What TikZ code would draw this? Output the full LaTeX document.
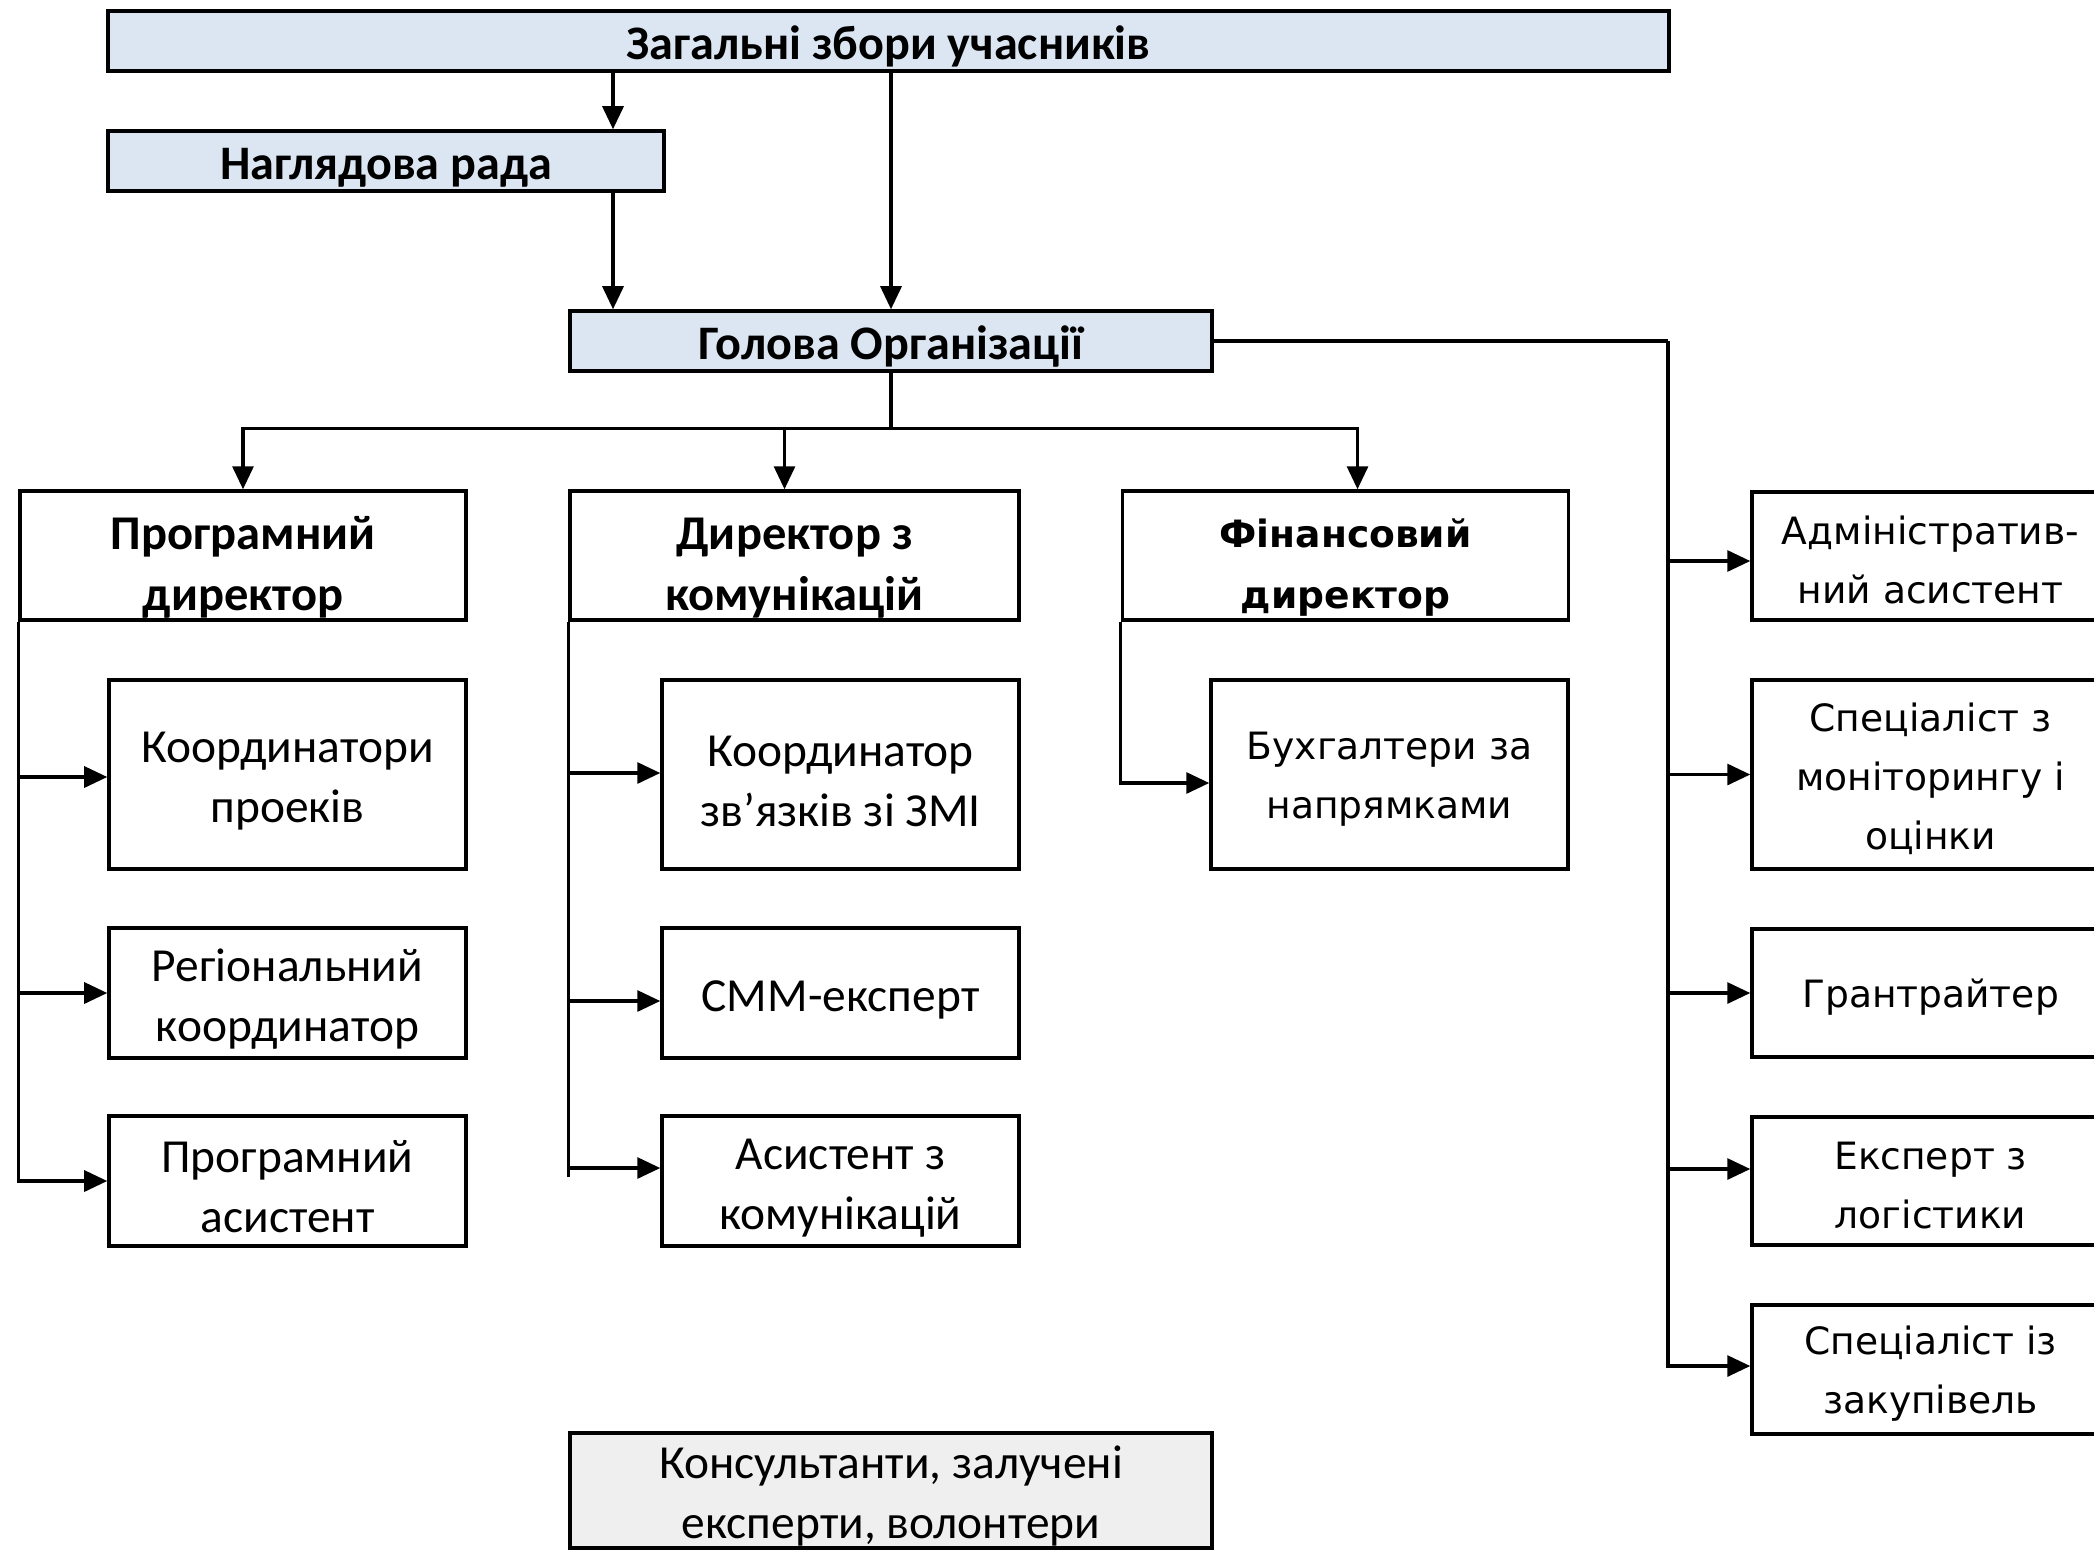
\documentclass[tikz,border=0pt]{standalone}
\usepackage{fontspec}
\setmainfont{Carlito}
\newfontfamily\verd{DejaVu Sans}
\usetikzlibrary{arrows.meta}
\definecolor{headblue}{RGB}{220,230,242}
\definecolor{extgray}{RGB}{239,239,239}
\newcommand\lift{\vphantom{\rule{1pt}{\lifth}}}
\tikzset{
  box/.style = {draw, line width=1pt, inner sep=0pt, align=center},
  head/.style = {box, fill=headblue, minimum height=6mm, font=\fontsize{13.7}{16}\selectfont\bfseries,
    execute at begin node=\def\lifth{4.5mm}},
  chief/.style = {box, minimum height=12.9mm, minimum width=44.6mm, font=\fontsize{13.8}{17.4}\selectfont\bfseries,
    execute at begin node=\def\lifth{5.6mm}},
  unit/.style = {box, minimum width=35.7mm, font=\fontsize{13.5}{17}\selectfont,
    execute at begin node=\def\lifth{4.4mm}},
  side/.style = {box, minimum width=35.7mm, font=\verd\fontsize{10.7}{16.8}\selectfont,
    execute at begin node=\def\lifth{3.7mm}},
  link/.style = {line width=0.9pt},
  arr/.style = {link, -{Triangle[length=2.3mm, width=2.1mm]}}
}
\begin{document}
\begin{tikzpicture}
  \useasboundingbox (0,0) rectangle (20.94,-15.5);
  % top of the structure
  \node[head, minimum width=15.61cm] (zag) at (8.885,-0.41) {\lift Загальні збори учасників};
  \node[head, minimum width=5.56cm] (nag) at (3.86,-1.61) {\lift Наглядова рада};
  \node[head, minimum width=6.42cm] (hol) at (8.91,-3.41) {\lift Голова Організації};
  % directors
  \node[chief] (prog) at (2.43,-5.555) {\lift Програмний\\директор};
  \node[chief, minimum width=4.49cm] (kom) at (7.945,-5.555) {\lift Директор з\\комунікацій};
  \node[chief, font=\verd\fontsize{10.7}{17.4}\selectfont\bfseries,
    execute at begin node=\def\lifth{5.2mm}] (fin) at (13.455,-5.555) {\lift Фінансовий\\директор};
  % staff
  \node[unit, minimum height=18.9mm] (koord) at (2.875,-7.745) {\lift Координатори\\проеків};
  \node[unit, minimum height=13mm] (reg) at (2.875,-9.93) {\lift Регіональний\\координатор};
  \node[unit, minimum height=13mm] (pas) at (2.875,-11.81) {\lift Програмний\\асистент};
  \node[unit, minimum height=18.9mm] (zmi) at (8.405,-7.745) {\lift Координатор\\зв’язків зі ЗМІ};
  \node[unit, minimum height=13mm] (smm) at (8.405,-9.93) {\lift СММ-експерт};
  \node[unit, minimum height=13mm] (kas) at (8.405,-11.81) {\lift Асистент з\\комунікацій};
  \node[side, minimum height=18.9mm] (buh) at (13.895,-7.745) {\lift Бухгалтери за\\напрямками};
  \node[side, minimum height=12.8mm] (adm) at (19.305,-5.56) {\lift Адміністратив-\\ний асистент};
  \node[side, minimum height=18.9mm] (mon) at (19.305,-7.745) {\lift Спеціаліст з\\моніторингу і\\оцінки};
  \node[side, minimum height=12.8mm] (grant) at (19.305,-9.93) {\lift Грантрайтер};
  \node[side, minimum height=12.8mm] (log) at (19.305,-11.81) {\lift Експерт з\\логістики};
  \node[side, minimum height=12.9mm] (zak) at (19.305,-13.695) {\lift Спеціаліст із\\закупівель};
  \node[unit, fill=extgray, minimum width=6.42cm, minimum height=11.5mm] (kons) at (8.91,-14.905) {\lift Консультанти, залучені\\експерти, волонтери};
  % connectors
  \coordinate (nagtap) at ([xshift=22.7mm]nag.north);
  \draw[arr] (zag.south -| nagtap) -- (nagtap);
  \draw[arr] (nag.south -| nagtap) -- (hol.north -| nagtap);
  \draw[arr] (zag.south -| hol.north) -- (hol.north);
  \draw[link] (hol.south) -- ++(0,-0.56) coordinate (fork);
  \draw[arr] (fork) -| (prog.north);
  \draw[arr] (fork) -| ([xshift=-1mm]kom.north);
  \draw[arr] (fork) -| ([xshift=1.2mm]fin.north);
  \coordinate (rbus) at (16.68,0);
  \draw[link] (hol.east) -- (hol.east -| rbus);
  \foreach \n/\s in {adm/-0.5,mon/0,grant/0,log/1.2,zak/0.35}
    \draw[arr] (hol.east -| rbus) |- ([yshift=\s mm]\n.west);
  \foreach \n/\s in {koord/-0.25,reg/0,pas/0}
    \draw[arr] (prog.south west) |- ([yshift=\s mm]\n.west);
  \draw[link] (kom.south west) -- ([yshift=0.4mm]kas.west -| kom.south west);
  \foreach \n/\s in {zmi/0.15,smm/-0.8,kas/1.3}
    \draw[arr] (kom.south west) |- ([yshift=\s mm]\n.west);
  \draw[arr] (fin.south west) |- ([yshift=-0.85mm]buh.west);
\end{tikzpicture}
\end{document}
